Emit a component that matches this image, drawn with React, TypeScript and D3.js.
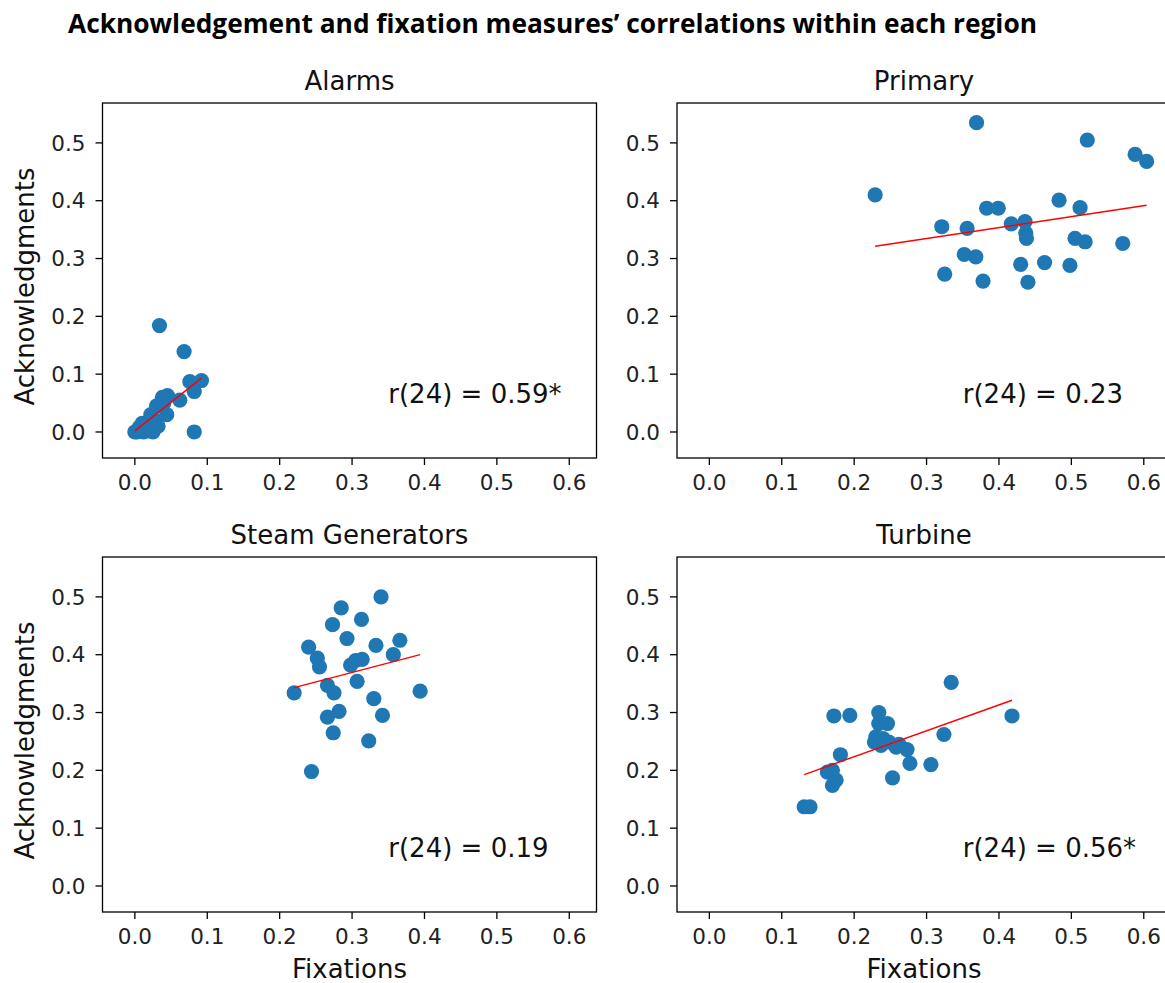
import React from 'react';
import * as d3 from 'd3';

const xTickValues = [0, 0.1, 0.2, 0.3, 0.4, 0.5, 0.6];
const yTickValues = [0, 0.1, 0.2, 0.3, 0.4, 0.5];
const regionNames = ['Alarms', 'Primary', 'Steam Generators', 'Turbine'];
const correlationLabels = ['r(24) = 0.59*', 'r(24) = 0.23', 'r(24) = 0.19', 'r(24) = 0.56*'];

const alarmsFixations = [0.000, 0.003, 0.008, 0.012, 0.015, 0.010, 0.020, 0.025, 0.026, 0.022, 0.028, 0.030, 0.034, 0.038, 0.044, 0.040, 0.062, 0.068, 0.076, 0.082, 0.082, 0.092, 0.018, 0.006, 0.032, 0.045];
const alarmsAcks = [0.000, 0.000, 0.002, 0.000, 0.012, 0.015, 0.005, 0.000, 0.010, 0.030, 0.020, 0.045, 0.184, 0.060, 0.030, 0.050, 0.055, 0.139, 0.087, 0.070, 0.000, 0.089, 0.002, 0.008, 0.010, 0.063];

const primaryFixations = [0.229, 0.369, 0.522, 0.588, 0.604, 0.321, 0.356, 0.383, 0.399, 0.417, 0.436, 0.437, 0.438, 0.483, 0.512, 0.505, 0.519, 0.571, 0.352, 0.368, 0.325, 0.378, 0.430, 0.463, 0.498, 0.440];
const primaryAcks = [0.410, 0.535, 0.505, 0.480, 0.468, 0.355, 0.352, 0.387, 0.387, 0.360, 0.364, 0.344, 0.335, 0.401, 0.388, 0.335, 0.329, 0.326, 0.307, 0.303, 0.273, 0.261, 0.290, 0.293, 0.288, 0.259];

const steamFixations = [0.340, 0.285, 0.313, 0.273, 0.293, 0.240, 0.333, 0.366, 0.252, 0.255, 0.357, 0.298, 0.305, 0.314, 0.307, 0.220, 0.266, 0.275, 0.394, 0.330, 0.282, 0.266, 0.342, 0.274, 0.323, 0.244];
const steamAcks = [0.500, 0.481, 0.461, 0.452, 0.428, 0.413, 0.416, 0.425, 0.394, 0.379, 0.400, 0.382, 0.390, 0.392, 0.354, 0.334, 0.347, 0.334, 0.337, 0.324, 0.302, 0.292, 0.295, 0.265, 0.251, 0.198];

const turbineFixations = [0.334, 0.172, 0.194, 0.234, 0.234, 0.246, 0.418, 0.324, 0.228, 0.237, 0.248, 0.258, 0.273, 0.181, 0.277, 0.306, 0.163, 0.175, 0.170, 0.253, 0.131, 0.139, 0.240, 0.230, 0.262, 0.170];
const turbineAcks = [0.352, 0.294, 0.295, 0.300, 0.281, 0.281, 0.294, 0.262, 0.249, 0.243, 0.249, 0.240, 0.236, 0.227, 0.212, 0.210, 0.197, 0.183, 0.174, 0.187, 0.137, 0.137, 0.255, 0.258, 0.245, 0.200];

const fitSlopes = [0.99, 0.189, 0.328, 0.448];
const fitIntercepts = [0.002, 0.278, 0.271, 0.134];

const fixationSeries = [alarmsFixations, primaryFixations, steamFixations, turbineFixations];
const ackSeries = [alarmsAcks, primaryAcks, steamAcks, turbineAcks];

const W = 1165;
const H = 983;
const panelW = 494;
const panelH = 355;
const panelLefts = [102.5, 677];
const panelTops = [103, 557];
const FONT = "'DejaVu Sans', sans-serif";
const fmt = d3.format('.1f');

function Panel({ idx }: { idx: number }) {
  const col = idx % 2;
  const row = Math.floor(idx / 2);
  const left = panelLefts[col];
  const top = panelTops[row];
  const x = d3.scaleLinear().domain([-0.0447, 0.6376]).range([0, panelW]);
  const y = d3.scaleLinear().domain([-0.045, 0.569]).range([panelH, 0]);
  const xs = fixationSeries[idx];
  const ys = ackSeries[idx];
  const [xmin, xmax] = d3.extent(xs) as [number, number];
  const lineGen = d3.line<number>().x((v) => x(v)).y((v) => y(fitSlopes[idx] * v + fitIntercepts[idx]));
  return (
    <g transform={`translate(${left},${top})`}>
      <text x={panelW / 2} y={-13} textAnchor="middle" fontFamily={FONT} fontSize={26} fill="#111">
        {regionNames[idx]}
      </text>
      {xs.map((v, i) => (
        <circle key={i} cx={x(v)} cy={y(ys[i])} r={7.6} fill="#1f77b4" />
      ))}
      <path d={lineGen([xmin, xmax]) || ''} stroke="#ff0000" strokeWidth={1.4} fill="none" />
      <text x={x(0.35)} y={y(0.05)} fontFamily={FONT} fontSize={26} fill="#111">
        {correlationLabels[idx]}
      </text>
      <rect x={0} y={0} width={panelW} height={panelH} fill="none" stroke="#000" strokeWidth={1.3} />
      {xTickValues.map((t) => (
        <g key={'x' + t} transform={`translate(${x(t)},${panelH})`}>
          <line y1={0} y2={7} stroke="#000" strokeWidth={1.3} />
          <text y={32} textAnchor="middle" fontFamily={FONT} fontSize={21.5} fill="#222">
            {fmt(t)}
          </text>
        </g>
      ))}
      {yTickValues.map((t) => (
        <g key={'y' + t} transform={`translate(0,${y(t)})`}>
          <line x1={0} x2={-7} stroke="#000" strokeWidth={1.3} />
          <text x={-17} dy="0.36em" textAnchor="end" fontFamily={FONT} fontSize={21.5} fill="#222">
            {fmt(t)}
          </text>
        </g>
      ))}
      {row === 1 && (
        <text x={panelW / 2} y={panelH + 66} textAnchor="middle" fontFamily={FONT} fontSize={26} fill="#111">
          Fixations
        </text>
      )}
      {col === 0 && (
        <text
          transform={`translate(${-69},${panelH / 2 + 6}) rotate(-90)`}
          textAnchor="middle"
          fontFamily={FONT}
          fontSize={26}
          fill="#111"
        >
          Acknowledgments
        </text>
      )}
    </g>
  );
}

export default function App() {
  return (
    <svg
      width={W}
      height={H}
      viewBox={`0 0 ${W} ${H}`}
      style={{ position: 'absolute', left: 0, top: 0, background: '#fff' }}
    >
      <rect x={0} y={0} width={W} height={H} fill="#fff" />
      <text
        x={552.5}
        y={33}
        textAnchor="middle"
        fontFamily="'Liberation Sans Narrow', 'Open Sans', sans-serif"
        fontWeight="bold"
        fontSize={27}
        textLength={969}
        lengthAdjust="spacingAndGlyphs"
        fill="#000"
      >
        Acknowledgement and fixation measures’ correlations within each region
      </text>
      {[0, 1, 2, 3].map((i) => (
        <Panel key={i} idx={i} />
      ))}
    </svg>
  );
}
